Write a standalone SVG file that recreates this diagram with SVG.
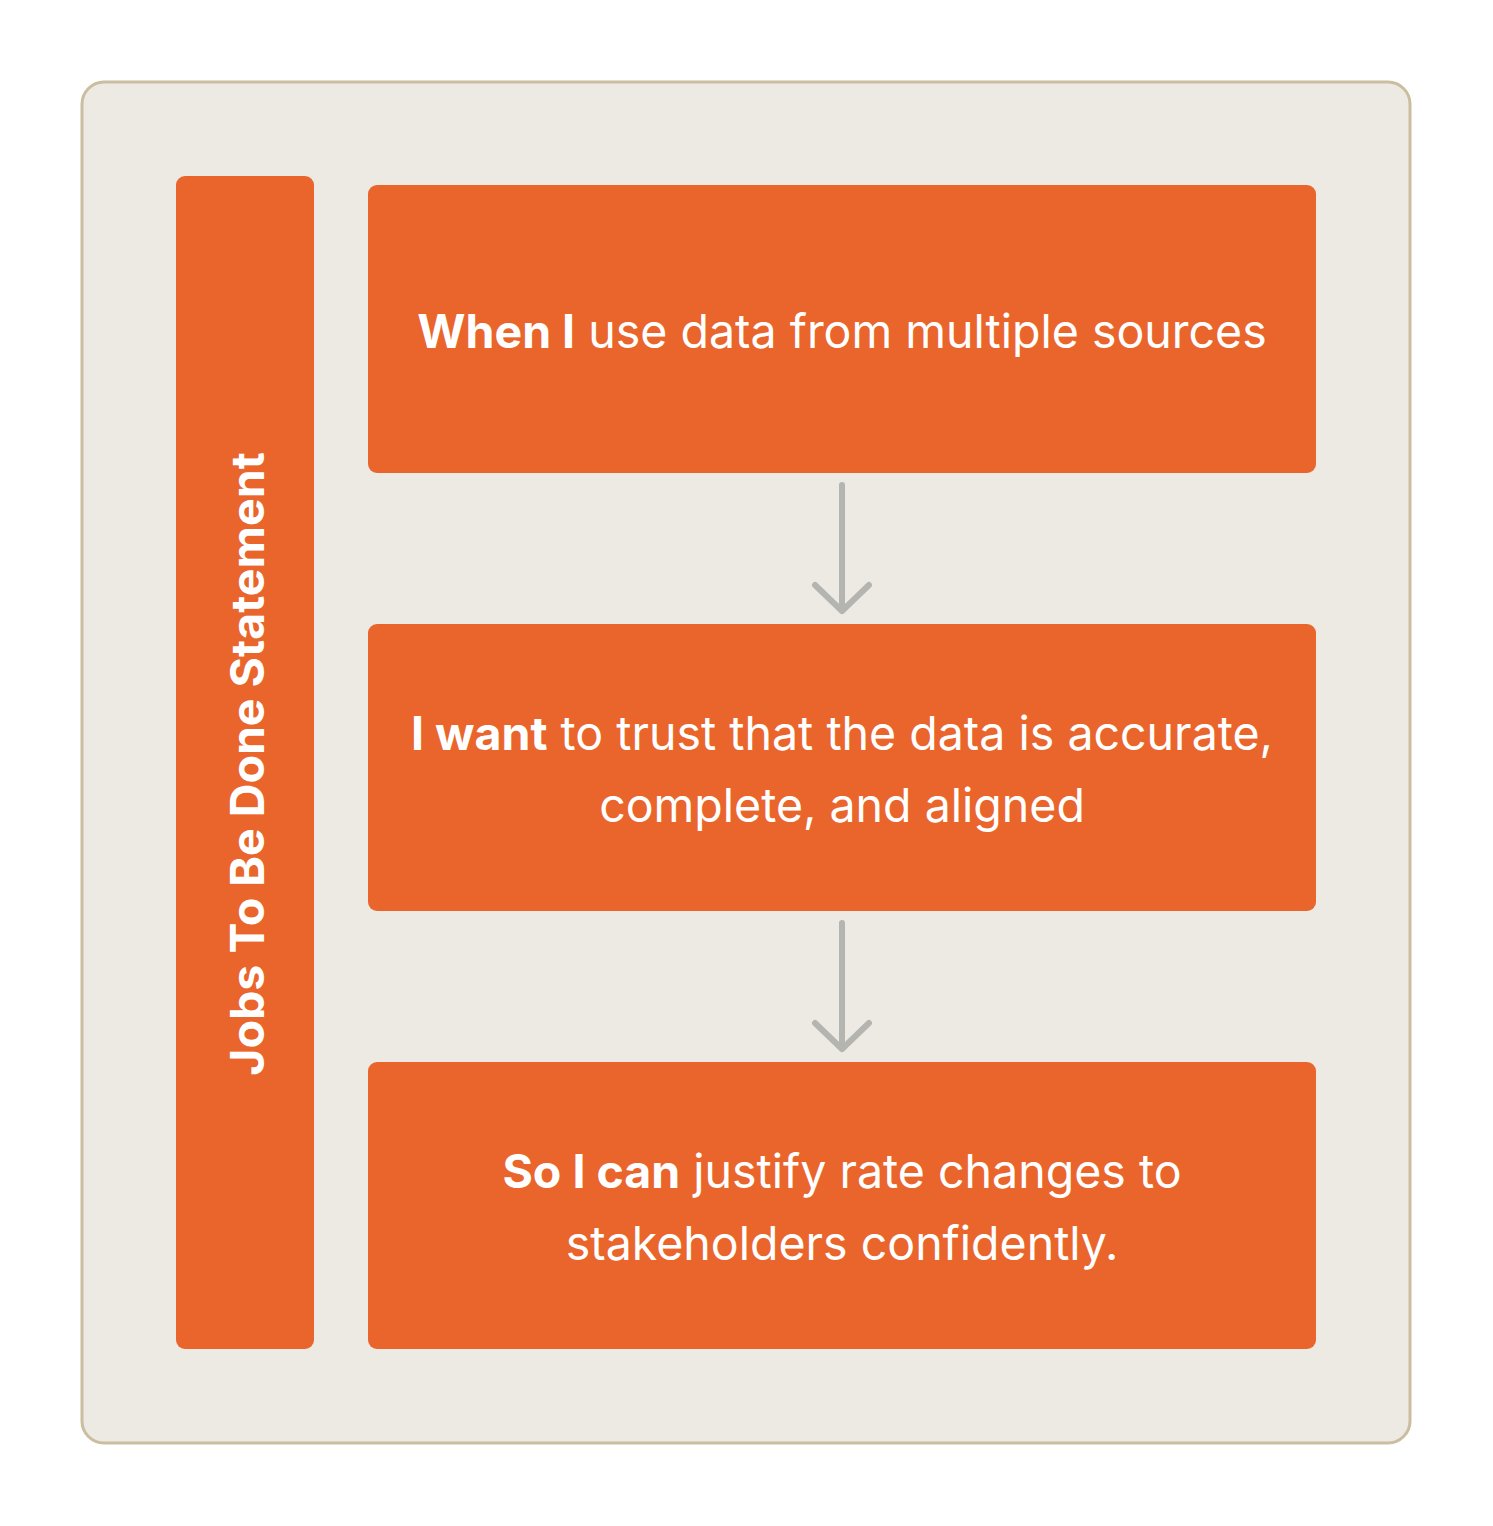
<svg xmlns="http://www.w3.org/2000/svg" width="1493" height="1526" viewBox="0 0 1493 1526">
<style>
.box{fill:#E9652C;}
.t{font-family:Inter,"Liberation Sans",sans-serif;font-size:46.5px;fill:#FFFFFF;text-anchor:middle;}
.b{font-weight:700;}
.conn{stroke:#B4B4B1;stroke-width:6;fill:none;stroke-linecap:round;stroke-linejoin:round;}
</style>
<rect x="0" y="0" width="1493" height="1526" fill="#FFFFFF"/>
<g id="frame">
<rect x="82" y="82" width="1328" height="1361" rx="22" fill="#EDEAE4" stroke="#CBBD9F" stroke-width="3"/>
</g>
<g id="label">
<rect class="box" x="176" y="176" width="138" height="1173" rx="9"/>
<text class="t b" transform="translate(264,764) rotate(-90)">Jobs To Be Done Statement</text>
</g>
<g id="when">
<rect class="box" x="368" y="185" width="948" height="288" rx="9"/>
<text class="t" x="842" y="348"><tspan class="b">When I</tspan> use data from multiple sources</text>
</g>
<g id="want">
<rect class="box" x="368" y="624" width="948" height="287" rx="9"/>
<text class="t" x="842" y="750"><tspan class="b">I want</tspan> to trust that the data is accurate,</text>
<text class="t" x="842" y="822">complete, and aligned</text>
</g>
<g id="so">
<rect class="box" x="368" y="1062" width="948" height="287" rx="9"/>
<text class="t" x="842" y="1188"><tspan class="b">So I can</tspan> justify rate changes to</text>
<text class="t" x="842" y="1260">stakeholders confidently.</text>
</g>
<g id="connectors">
<path class="conn" d="M842 485 V611 M815 585 L842 611 L869 585"/>
<path class="conn" d="M842 923 V1049 M815 1023 L842 1049 L869 1023"/>
</g>
</svg>
